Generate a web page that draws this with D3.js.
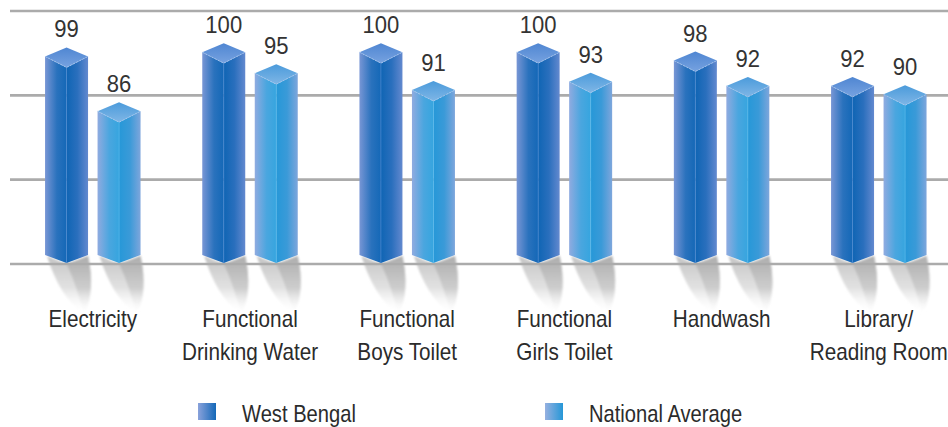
<!DOCTYPE html>
<html><head><meta charset="utf-8">
<script src="https://cdn.jsdelivr.net/npm/d3@7"></script>
<style>
html,body{margin:0;padding:0;background:#fff;}
svg{display:block;}
text{font-family:"Liberation Sans",Arial,sans-serif;fill:#2b2b2b;}
</style></head>
<body><svg id="c" width="948" height="427"></svg>
<script>
const categories = [["Electricity"],["Functional","Drinking Water"],["Functional","Boys Toilet"],["Functional","Girls Toilet"],["Handwash"],["Library/","Reading Room"]];
const seriesNames = ["West Bengal","National Average"];
const westBengal = [99,100,100,100,98,92];
const nationalAverage = [86,95,91,93,92,90];
const gridValues = [50,70,90,110];

const svg = d3.select("#c");
const W = 948, H = 427;
const y = d3.scaleLinear().domain([50,110]).range([264,11]);
const x0 = d3.scalePoint().domain(d3.range(categories.length)).range([92.8, 878.8]);
const x1 = d3.scaleBand().domain(seriesNames).range([-47.75, 47.75]).paddingInner(0.181).paddingOuter(0);

const defs = svg.append("defs");
function lg(id, stops, x2, y2){
  const g = defs.append("linearGradient").attr("id",id).attr("x1",0).attr("y1",0).attr("x2",x2).attr("y2",y2);
  stops.forEach(s=>g.append("stop").attr("offset",s[0]).attr("stop-color",s[1]).attr("stop-opacity",s[2]===undefined?1:s[2]));
}
const pal = {
  "West Bengal": {L:[["0","#7896d5"],["0.55","#2a72bd"],["1","#1468b7"]], R:[["0","#0f65b4"],["0.5","#2a6fbd"],["1","#6389cf"]], T:[["0","#4f86d2"],["1","#76a2e0"]], sq:[["0","#8aa2db"],["1","#1468b8"]]},
  "National Average": {L:[["0","#90abe0"],["0.55","#4aa6df"],["1","#36a5df"]], R:[["0","#2698d8"],["0.5","#3a9ad8"],["1","#7ea6dc"]], T:[["0","#4b9bdb"],["1","#7fb6e6"]], sq:[["0","#96b0e0"],["1","#2597d7"]]}
};
seriesNames.forEach((s,i)=>{
  lg("L"+i, pal[s].L, 1, 0);
  lg("R"+i, pal[s].R, 1, 0);
  lg("T"+i, pal[s].T, 0, 1);
  lg("S"+i, pal[s].sq, 1, 0);
});
lg("shadowA", [["0","#c4c4c4",1],["0.55","#dadada",0.8],["1","#ffffff",0]], 0, 1);
lg("shadowB", [["0","#aeaeae",1],["0.55","#c8c8c8",0.8],["1","#ffffff",0]], 0, 1);
defs.append("filter").attr("id","blur").attr("x","-30%").attr("y","-30%").attr("width","160%").attr("height","160%")
  .append("feGaussianBlur").attr("stdDeviation",1.3);

const data = [];
categories.forEach((c,i)=>{
  data.push({cat:i, s:"West Bengal", si:0, v:westBengal[i]});
  data.push({cat:i, s:"National Average", si:1, v:nationalAverage[i]});
});
const base = y(gridValues[0]);
const bw = x1.bandwidth(), hw = bw/2;

// shadows (behind gridlines)
const sh = svg.append("g").selectAll("g").data(data).join("g")
  .attr("transform", d=>`translate(${x0(d.cat)+x1(d.s)},0)`).attr("filter","url(#blur)");
sh.append("path").attr("d", ()=>{
  const b = base;
  return `M2,${b-8} L${hw},${b} L${bw},${b-8} C${bw+5},${b+14} ${bw+4},${b+36} ${bw-4},${b+50} C${hw},${b+38} ${10},${b+18} 2,${b-8} Z`;
}).attr("fill","url(#shadowA)");
sh.append("path").attr("d", ()=>{
  const b = base;
  return `M${hw},${b} L${bw},${b-8} C${bw+5},${b+14} ${bw+4},${b+36} ${bw-4},${b+50} C${bw-9},${b+32} ${hw+7},${b+14} ${hw},${b} Z`;
}).attr("fill","url(#shadowB)");

// gridlines
svg.append("g").selectAll("line").data(gridValues).join("line")
  .attr("x1",10).attr("x2",W).attr("y1",d=>y(d)).attr("y2",d=>y(d))
  .attr("stroke","#ababab").attr("stroke-width",2.6);

const bars = svg.append("g").selectAll("g").data(data).join("g")
  .attr("transform", d=>`translate(${x0(d.cat)+x1(d.s)},0)`);

// left face
bars.append("path").attr("d", d=>{
  const t = y(d.v);
  return `M0,${t-1} L${hw},${t+10} L${hw},${base-1} L0,${base-9} Z`;
}).attr("fill", d=>`url(#L${d.si})`);
// right face
bars.append("path").attr("d", d=>{
  const t = y(d.v);
  return `M${hw},${t+10} L${bw},${t-1} L${bw},${base-9} L${hw},${base-1} Z`;
}).attr("fill", d=>`url(#R${d.si})`);
// edge highlight
bars.append("line").attr("x1",hw).attr("x2",hw).attr("y1",d=>y(d.v)+10).attr("y2",base-1)
  .attr("stroke", d=>d.si?"#5ab8ea":"#4a86cf").attr("stroke-width",1).attr("stroke-opacity",0.7);
// top
bars.append("path").attr("d", d=>{
  const t = y(d.v);
  return `M0,${t-1} L${hw},${t-10} L${bw},${t-1} L${hw},${t+10} Z`;
}).attr("fill", d=>`url(#T${d.si})`);
bars.append("path").attr("d", d=>{
  const t = y(d.v);
  return `M0,${t-1} L${hw},${t+10} L${bw},${t-1}`;
}).attr("fill","none").attr("stroke","#a9c6ee").attr("stroke-width",0.8).attr("stroke-dasharray","2,1.5");

// value labels
bars.append("text")
  .attr("transform", d=>`translate(${hw},${y(d.v)-20}) scale(0.92,1)`)
  .attr("text-anchor","middle").style("font-size","24px").style("fill","#333").text(d=>d.v);

// category labels
const cl = svg.append("g").selectAll("text").data(categories).join("text")
  .attr("text-anchor","middle")
  .attr("transform",(d,i)=>`translate(${x0(i)},327) scale(0.9,1)`)
  .style("font-size","23px");
cl.selectAll("tspan").data(d=>d).join("tspan")
  .attr("x",0).attr("dy",(d,i)=>i?33:0).text(d=>d);

// legend
const legX = [198, 545];
const lgd = svg.append("g").selectAll("g").data(seriesNames).join("g")
  .attr("transform",(d,i)=>`translate(${legX[i]},403)`);
lgd.append("rect").attr("width",18).attr("height",17).attr("fill",(d,i)=>`url(#S${i})`);
lgd.append("text").attr("transform","translate(44,18.5) scale(0.84,1)").style("font-size","24px").text(d=>d);
</script></body></html>
